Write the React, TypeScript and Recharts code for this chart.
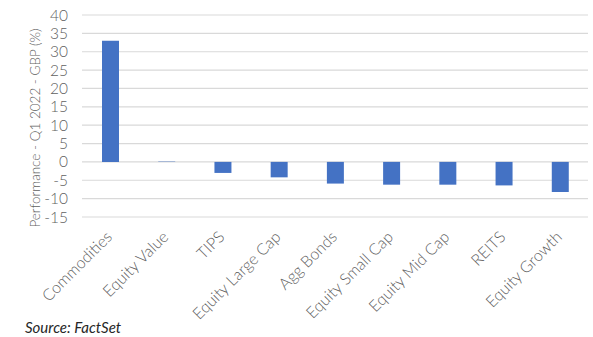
import React from 'react';
import { BarChart, Bar, XAxis, YAxis, CartesianGrid } from 'recharts';

const categories = ['Commodities', 'Equity Value', 'TIPS', 'Equity Large Cap', 'Agg Bonds', 'Equity Small Cap', 'Equity Mid Cap', 'REITS', 'Equity Growth'];
const performance = [33.0, 0.1, -3.0, -4.2, -5.9, -6.2, -6.2, -6.4, -8.2];
const yTicks = [-15, -10, -5, 0, 5, 10, 15, 20, 25, 30, 35, 40];

const data = categories.map((name, i) => ({ name, value: performance[i] }));

const FONT = 'Lato, "Open Sans", sans-serif';
const GREY = '#5f5f5f';

const XTick = (props: any) => {
  const { x, y, payload } = props;
  return (
    <g transform={`translate(${x + 3},${y + 13})`}>
      <text x={0} y={0} textAnchor="end" transform="rotate(-45)" fill={GREY} fontSize={16} fontWeight={300} fontFamily={FONT}>
        {payload.value}
      </text>
    </g>
  );
};

const YLabel = (props: any) => {
  const vb = props.viewBox;
  const cx = vb.x + 40;
  const cy = vb.y + vb.height / 2 + 12;
  return (
    <text x={cx} y={cy} transform={`rotate(-90 ${cx} ${cy})`} textAnchor="middle" fill={GREY} fontSize={13.5} fontWeight={300} fontFamily={FONT}>
      Performance - Q1 2022 - GBP (%)
    </text>
  );
};

export default function App() {
  return (
    <div style={{ position: 'fixed', left: 0, top: 0, width: 593, height: 337, background: '#fff' }}>
      <BarChart width={593} height={337} data={data} margin={{ top: 15, right: 5, left: 0, bottom: 0 }} barCategoryGap={0}>
        <CartesianGrid vertical={false} stroke="#d9d9d9" strokeWidth={1.2} />
        <XAxis dataKey="name" axisLine={false} tickLine={false} interval={0} height={120} tick={<XTick />} />
        <YAxis
          domain={[-15, 40]}
          ticks={yTicks}
          interval={0}
          axisLine={false}
          tickLine={false}
          width={82}
          tickMargin={8}
          tick={{ fill: GREY, fontSize: 15.5, fontWeight: 300, fontFamily: FONT }}
          label={<YLabel />}
        />
        <Bar dataKey="value" fill="#4472c4" barSize={17} isAnimationActive={false} />
      </BarChart>
      <div style={{ position: 'absolute', left: 25, top: 318, fontStyle: 'italic', fontSize: 15, fontFamily: FONT, color: '#262626' }}>
        Source: FactSet
      </div>
    </div>
  );
}
